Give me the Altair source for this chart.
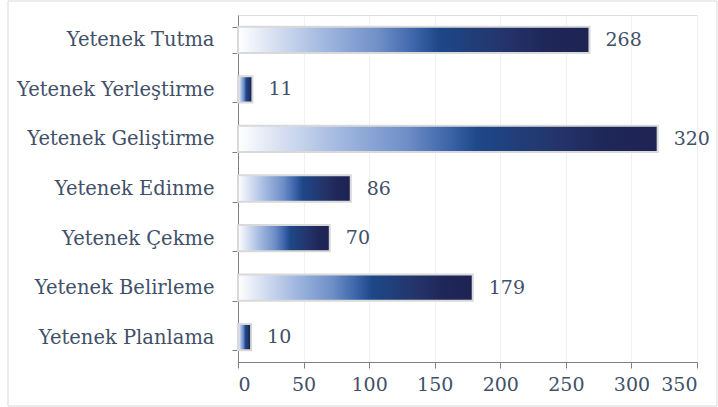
import altair as alt
import pandas as pd

categories = ["Yetenek Tutma", "Yetenek Yerleştirme", "Yetenek Geliştirme",
              "Yetenek Edinme", "Yetenek Çekme", "Yetenek Belirleme", "Yetenek Planlama"]
values = [268, 11, 320, 86, 70, 179, 10]
x_ticks = [0, 50, 100, 150, 200, 250, 300, 350]

df = pd.DataFrame({"cat": categories, "val": values})

W, H = 459, 347
PL, PT, PR, PB = 238, 15, 21, 45
TXT = "#415069"
FONT = "DejaVu Serif"

grad = alt.LinearGradient(
    gradient="linear", x1=0, y1=0, x2=1, y2=0,
    stops=[
        alt.GradientStop(offset=0.0, color="#ffffff"),
        alt.GradientStop(offset=0.12, color="#d0dbef"),
        alt.GradientStop(offset=0.25, color="#9fb6df"),
        alt.GradientStop(offset=0.4, color="#6f8fc7"),
        alt.GradientStop(offset=0.5, color="#3e66ab"),
        alt.GradientStop(offset=0.57, color="#1d4889"),
        alt.GradientStop(offset=0.75, color="#24356c"),
        alt.GradientStop(offset=0.88, color="#1f2658"),
        alt.GradientStop(offset=1.0, color="#1e2354"),
    ],
)

xenc = alt.X("val:Q", scale=alt.Scale(domain=[0, 350], nice=False),
             axis=alt.Axis(values=x_ticks, title=None, grid=True, gridColor="#f0f0f0",
                           domainColor="#7f7f7f", tickColor="#7f7f7f", tickSize=6,
                           labelFont=FONT, labelFontSize=19, labelColor=TXT,
                           labelPadding=7))
yenc = alt.Y("cat:N", sort=categories,
             scale=alt.Scale(paddingInner=0.47, paddingOuter=0.235),
             axis=alt.Axis(title=None, tickBand="extent", domainColor="#7f7f7f",
                           tickColor="#7f7f7f", tickSize=6, labelFont=FONT,
                           labelFontSize=19.5, labelColor=TXT, labelPadding=18,
                           labelLimit=400))

bars = alt.Chart(df).mark_bar(color=grad, stroke="#d9d9d9", strokeWidth=2).encode(
    x=xenc, y=yenc)

labels = alt.Chart(df).mark_text(align="left", baseline="middle", dx=16,
                                  font=FONT, fontSize=19, color=TXT).encode(
    x="val:Q", y=alt.Y("cat:N", sort=categories), text="val:Q")

border = alt.Chart(pd.DataFrame({"a": [0]})).mark_rect(
    fillOpacity=0, stroke="#d9d9d9", strokeWidth=1).encode(
    x=alt.value(8 - PL), x2=alt.value(717 - PL),
    y=alt.value(1 - PT), y2=alt.value(406 - PT))

chart = alt.layer(border, bars, labels).properties(
    width=W, height=H,
    autosize=alt.AutoSizeParams(type="none"),
    padding={"left": PL, "top": PT, "right": PR, "bottom": PB},
).configure_view(stroke=None).configure(background="white")

chart.save("out.html", embed_options={"renderer": "svg", "actions": False})
